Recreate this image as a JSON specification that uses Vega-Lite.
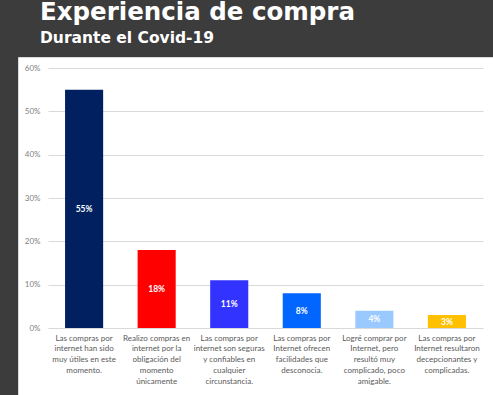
{
  "$schema": "https://vega.github.io/schema/vega-lite/v6.json",
  "width": 475,
  "height": 338,
  "autosize": {"type": "none"},
  "padding": {"left": 18, "top": 57, "right": 0, "bottom": 0},
  "background": "#3c3c3c",
  "config": {
    "view": {"fill": "white", "stroke": "#d9d9d9"},
    "font": "Lato"
  },
  "title": {
    "text": "Experiencia de compra",
    "subtitle": "Durante el Covid-19",
    "anchor": "start",
    "frame": "group",
    "dx": 22,
    "offset": 10,
    "color": "white",
    "subtitleColor": "white",
    "font": "DejaVu Sans",
    "subtitleFont": "DejaVu Sans",
    "fontSize": 24.5,
    "subtitleFontSize": 15.5,
    "fontWeight": "bold",
    "subtitleFontWeight": "bold",
    "subtitlePadding": 5
  },
  "data": {
    "values": [
      {"cat": "Las compras por|internet han sido|muy útiles en este|momento.", "v": 0.55},
      {"cat": "Realizo compras en|internet por la|obligación del|momento|únicamente", "v": 0.18},
      {"cat": "Las compras por|internet son seguras|y confiables en|cualquier|circunstancia.", "v": 0.11},
      {"cat": "Las compras por|Internet ofrecen|facilidades que|desconocia.", "v": 0.08},
      {"cat": "Logré comprar por|Internet, pero|resultó muy|complicado, poco|amigable.", "v": 0.04},
      {"cat": "Las compras por|Internet resultaron|decepcionantes y|complicadas.", "v": 0.03}
    ]
  },
  "encoding": {
    "x": {
      "field": "cat",
      "type": "nominal",
      "sort": null,
      "scale": {"range": [30, 465], "paddingInner": 0.475, "paddingOuter": 0.235},
      "axis": {
        "title": null,
        "labelAngle": 0,
        "labelExpr": "split(datum.value, '|')",
        "labelFontSize": 8,
        "labelLineHeight": 10.8,
        "labelColor": "#595959",
        "labelPadding": 6,
        "labelLimit": 120,
        "labelOverlap": false,
        "domain": false,
        "ticks": false,
        "grid": false,
        "offset": -67
      }
    }
  },
  "layer": [
    {
      "mark": {"type": "bar", "clip": false},
      "encoding": {
        "y": {
          "field": "v",
          "type": "quantitative",
          "scale": {"domain": [0, 0.6], "range": [271, 11], "nice": false, "zero": false},
          "axis": {
            "title": null,
            "format": ".0%",
            "values": [0, 0.1, 0.2, 0.3, 0.4, 0.5, 0.6],
            "offset": -30,
            "labelPadding": 8,
            "labelFontSize": 8,
            "labelColor": "#7f7f7f",
            "domain": false,
            "ticks": false,
            "gridColor": "#d9d9d9",
            "gridWidth": 1
          }
        },
        "color": {
          "field": "cat",
          "type": "nominal",
          "legend": null,
          "scale": {
            "domain": [
              "Las compras por|internet han sido|muy útiles en este|momento.",
              "Realizo compras en|internet por la|obligación del|momento|únicamente",
              "Las compras por|internet son seguras|y confiables en|cualquier|circunstancia.",
              "Las compras por|Internet ofrecen|facilidades que|desconocia.",
              "Logré comprar por|Internet, pero|resultó muy|complicado, poco|amigable.",
              "Las compras por|Internet resultaron|decepcionantes y|complicadas."
            ],
            "range": ["#002060", "#ff0000", "#3333ff", "#0066ff", "#99c9ff", "#ffc000"]
          }
        }
      }
    },
    {
      "mark": {"type": "text", "color": "white", "fontWeight": "bold", "fontSize": 8.5, "baseline": "middle"},
      "encoding": {
        "y": {
          "field": "v",
          "type": "quantitative",
          "scale": {"domain": [0, 0.6], "range": [271, 141], "nice": false, "zero": false},
          "axis": null
        },
        "text": {"field": "v", "type": "quantitative", "format": ".0%"}
      }
    }
  ],
  "resolve": {"scale": {"y": "independent"}}
}
